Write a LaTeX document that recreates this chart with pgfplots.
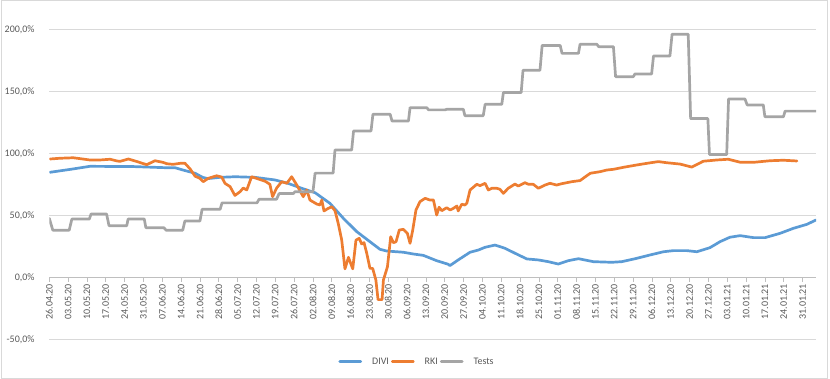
\documentclass[border=0pt]{standalone}
\usepackage{pgfplots}
\pgfplotsset{compat=1.18}
\usepackage{fontspec}
\setmainfont{Carlito}
\definecolor{cdivi}{HTML}{5B9BD5}
\definecolor{crki}{HTML}{ED7D31}
\definecolor{ctests}{HTML}{A5A5A5}
\definecolor{ctxt}{HTML}{595959}
\definecolor{cgrid}{HTML}{D9D9D9}
\definecolor{caxis}{HTML}{BFBFBF}
\begin{document}
\begin{tikzpicture}
\path[use as bounding box] (-49.3pt,-39.7pt) rectangle (780.7pt,339.3pt);
\draw[cgrid, line width=0.75pt] (-48.3pt,-38.7pt) rectangle (778.2pt,338.8pt);
\begin{axis}[
  scale only axis, width=766.7pt, height=310pt,
  xmin=0, xmax=285, ymin=-50, ymax=200,
  axis x line*=middle, axis y line*=left,
  y axis line style={draw=none},
  x axis line style={draw=caxis, line width=0.75pt},
  hide obscured x ticks=false,
  xtick={0,7,...,280},
  xticklabels={26.04.20,03.05.20,10.05.20,17.05.20,24.05.20,31.05.20,07.06.20,14.06.20,21.06.20,28.06.20,05.07.20,12.07.20,19.07.20,26.07.20,02.08.20,09.08.20,16.08.20,23.08.20,30.08.20,06.09.20,13.09.20,20.09.20,27.09.20,04.10.20,11.10.20,18.10.20,25.10.20,01.11.20,08.11.20,15.11.20,22.11.20,29.11.20,06.12.20,13.12.20,20.12.20,27.12.20,03.01.21,10.01.21,17.01.21,24.01.21,31.01.21},
  ytick={-50,0,50,100,150,200},
  yticklabels={{-50,0\%},{0,0\%},{50,0\%},{100,0\%},{150,0\%},{200,0\%}},
  tick align=outside,
  major tick length=4.5pt,
  xtick style={draw=caxis, line width=0.75pt},
  ytick style={draw=none},
  ymajorgrids,
  grid style={draw=cgrid, line width=0.75pt},
  tick label style={font=\fontsize{10}{11}\selectfont, text=ctxt},
  x tick label style={rotate=90, anchor=east, inner sep=0pt},
  xticklabel shift=2pt,
  y tick label style={inner sep=0pt},
  yticklabel shift=10pt,
  legend columns=-1,
  legend style={at={(0.4796,-0.0723)}, anchor=center, draw=none, fill=none,
    font=\fontsize{10}{11}\selectfont, text=ctxt,
    /tikz/every odd column/.append style={column sep=8pt}},
  legend image code/.code={\draw[#1] (0pt,0pt) -- (21pt,0pt);},
  every axis plot/.append style={line width=2.7pt, line join=round, line cap=round},
]
\addplot[cdivi] coordinates {
(0.3,84.7)(7.7,87)(15.1,89.5)(31.1,89.3)(43,88.4)(46.7,88.4)(49.7,86.5)(54.2,83.9)
(57.1,80.5)(59,79.6)(63.4,80.6)(69,81.1)(76.5,80.6)(83.9,78.5)(88.7,75.8)(93.8,71.8)
(98.8,68.2)(104.3,59.7)(109.3,47.6)(114.3,36.8)(119.2,28.7)(122.9,22.6)(125.4,21.2)
(131.6,20.2)(135.3,18.8)(139,17.7)(144,13.4)(148.3,10.5)(148.9,9.4)(152,14)(156.4,20.2)
(159.5,22)(162,24.2)(165.7,26)(169.4,23.4)(173.1,19.4)(177.5,14.8)(181.8,14)(185.5,12.6)
(189.2,10.7)(192.9,13.4)(196.7,15)(202.2,12.6)(209.1,12.1)(212.8,12.6)(217.8,15)(223.3,18)
(228.3,20.6)(232,21.5)(237,21.5)(240.7,20.6)(245.6,23.9)(249.3,28.7)(253,32.3)(256.8,33.6)
(261.7,32)(266.1,32)(271.7,35.5)(276.6,39.5)(281.6,42.7)(285,46.2)
};
\addlegendentry{DIVI}
\addplot[crki] coordinates {
(0.3,95.4)(4,96)(8.9,96.4)(11.4,95.7)(15.1,94.6)(18.8,94.6)(22.6,95.2)(25.2,93.8)(26.3,93.5)
(29.4,95.4)(32.5,93.4)(36.2,90.8)(39.3,94)(42.3,92.7)(43.6,91.6)(46,91.1)(48.6,91.9)(50.4,92)
(52.3,87.5)(54.2,81.5)(56,79.8)(57.2,77.1)(59.1,79.8)(62.2,81.9)(64.1,80.8)(65.3,75.8)
(67.2,73.1)(69,66)(70.9,69)(72.1,72)(73.4,70.4)(75.2,81.1)(77.7,79.3)(80.2,77.5)(82,75)
(83,65)(84.5,72)(86.4,77.1)(88.3,75.8)(90.1,81.1)(92,74.4)(94.4,65)(95.7,70.4)(96.9,62.3)
(99.4,59.1)(100.6,58.3)(101.3,62.3)(102.1,53.5)(103.7,55.6)(105,56.9)(106.2,53.7)(107.4,43.5)
(108.7,30)(109.9,6.8)(111.2,16.1)(112.8,6.8)(114,30)(115.2,31.4)(116.1,26.9)(117,27.9)
(118,19.4)(119.2,7.2)(120.2,7.2)(121.4,-2.2)(122.2,-18)(123.7,-18)(124.2,-2.2)(125.7,8.5)
(126.9,32.7)(127.9,27.9)(128.9,28.7)(130.1,38.1)(131.6,38.7)(133.1,35.5)(134.1,27.4)
(135.1,38.1)(136.3,54.3)(137.8,61)(139.7,63.7)(141.5,62.3)(142.8,62.3)(144,50.2)(144.9,56.5)
(145.9,53.7)(147.7,56.1)(149,54.3)(150.2,55.6)(151.5,57.5)(152,53.5)(153.3,58.9)(154.5,58.3)
(155.2,59.7)(156.4,70.4)(157.6,72.6)(158.9,75)(160.1,73.9)(162,75.8)(163.2,70.4)(164.5,71.8)
(166.3,71.8)(167.5,71)(168.8,67.7)(170.6,71.8)(173.1,75.2)(174.3,73.6)(176.8,76.3)(178.1,75)
(179.9,75)(181.8,71.8)(184.3,74.4)(186.1,75.8)(188.6,74.4)(190.5,75.5)(194.2,77.1)(197.3,78)
(199.2,81)(201.1,83.9)(204.8,85.2)(207.2,86.5)(209.7,87.1)(213.4,88.7)(218.4,90.6)(222.1,91.9)
(226.4,93.3)(229.5,92.4)(234.5,91.3)(238.8,88.9)(243.1,93.6)(248.1,94.6)(252.4,95.2)(256.8,92.8)
(261.7,92.7)(267.9,94)(272.9,94.4)(277.9,93.8)
};
\addlegendentry{RKI}
\addplot[ctests] coordinates {
(0,47.6)(1.3,38)(7.4,38)(8.4,47)(14.9,47)(15.5,51)(21.3,51)(22.2,41.6)(28.8,41.6)(29.3,47)
(35.3,47)(35.9,40)(42.6,40)(43.4,38)(49.6,38)(50.4,45.4)(56,45.4)(56.8,54.8)(63.5,54.8)(64.2,60)
(77.2,60)(78,63)(84.5,63)(85.4,67.5)(90.7,67.5)(91.3,69)(98,69)(98.8,84)(105.5,84)(106.2,102.7)
(112.4,102.7)(113.1,118)(119.6,118)(120.3,131.5)(126.7,131.5)(127.4,126)(133.5,126)(134.1,136.8)
(140.3,136.8)(141,135)(147.1,135)(147.8,135.5)(153.9,135.5)(154.5,130.3)(161.3,130.3)(162,139.5)
(168.2,139.5)(168.8,149)(175.4,149)(176.1,167)(182.4,167)(183.2,187)(189.9,187)(190.6,180.6)
(196.7,180.6)(197.3,188)(203.5,188)(204.2,186)(209.7,186)(210.5,161.8)(217.1,161.8)(217.7,164)
(223.9,164)(224.6,178.5)(230.7,178.5)(231.5,196)(237.5,196)(238.4,128)(244.8,128)(245.4,99)
(251.8,99)(252.5,143.8)(258.6,143.8)(259.4,139)(265.4,139)(266,129.5)(272.9,129.5)(273.5,134)
(285,134)
};
\addlegendentry{Tests}
\end{axis}
\end{tikzpicture}
\end{document}
